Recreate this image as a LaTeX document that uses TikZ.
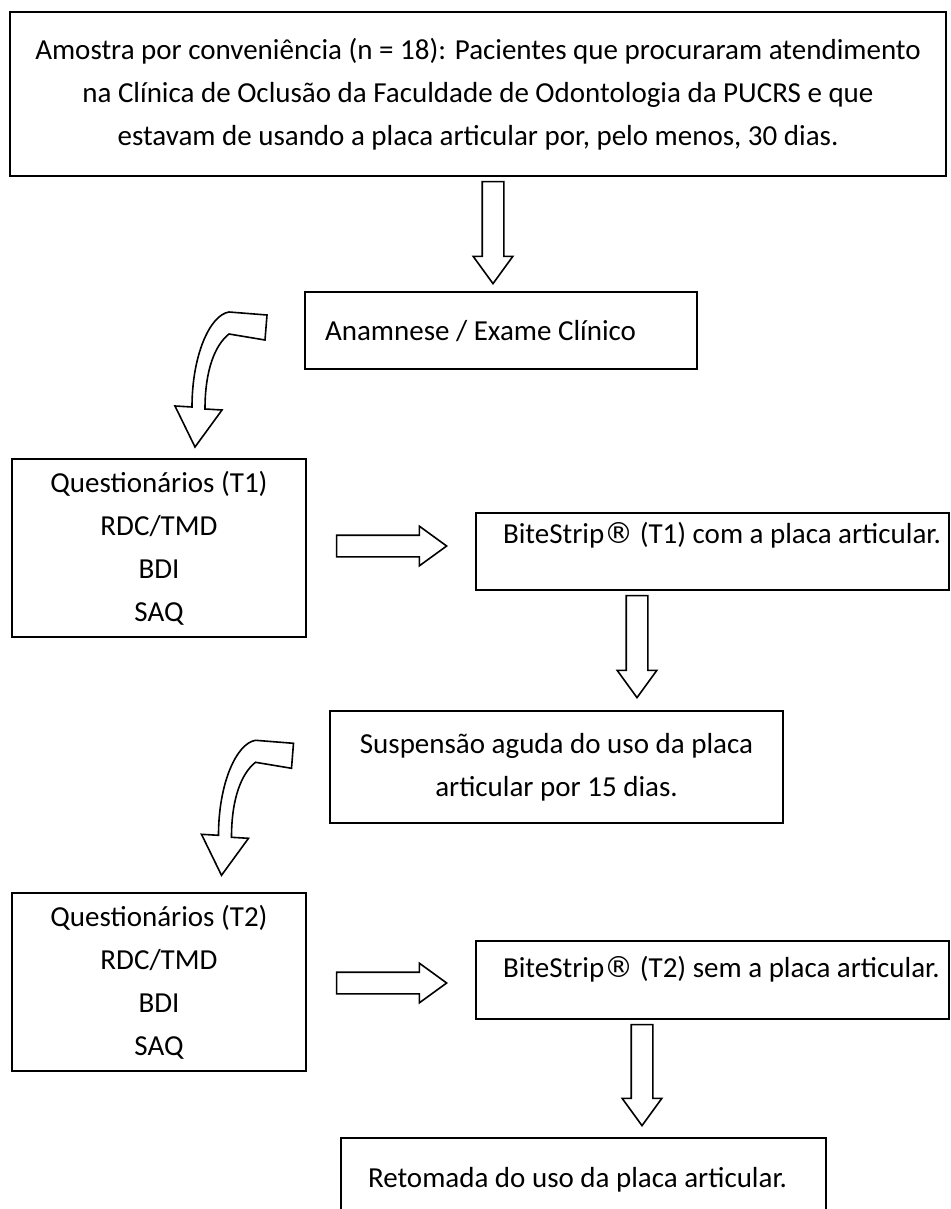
\documentclass[tikz,border=0pt]{standalone}
\usepackage{fontspec}
\setmainfont{Carlito}
\newfontfamily\regfont{DejaVu Sans}
\usetikzlibrary{shapes.arrows}

\begin{document}
\begin{tikzpicture}[x=0.5pt, y=-0.5pt]

\tikzset{box/.style = {draw, line width=1pt, align=center, inner sep=0pt, font=\fontsize{14.5}{21.5}\selectfont}}
\tikzset{onebox/.style = {box, anchor=north west, align=flush left, inner xsep=4pt, execute at begin node={\hspace*{#1}}}}
\tikzset{blockarrow/.style = {draw, line width=0.8pt, single arrow, single arrow head extend=4.5pt, single arrow tip angle=72, inner xsep=0pt, inner ysep=5pt, anchor=tip}}
\tikzset{bentarrow/.style = {draw, line width=0.8pt, fill=white}}

\useasboundingbox (0,0) rectangle (950,1209);
\clip (0,0) rectangle (950,1209);

%boxes
\node[box, minimum width=468pt, minimum height=82pt] (amostra) at (478,94) {Amostra por conveniência (n = 18): Pacientes que procuraram atendimento\\na Clínica de Oclusão da Faculdade de Odontologia da PUCRS e que\\estavam de usando a placa articular por, pelo menos, 30 dias.};
\node[onebox=6pt, text width=188pt, text height=24pt, text depth=14.5pt] (anamnese) at (304,291) {Anamnese / Exame Clínico};
\node[box, minimum width=147pt, minimum height=89pt] (questT1) at (159,548) {Questionários (T1)\\RDC/TMD\\BDI\\SAQ};
\node[onebox=9.5pt, text width=228.5pt, text height=15pt, text depth=23.5pt] (biteT1) at (475,512) {BiteStrip{\regfont ®} (T1) com a placa articular.};
\node[box, minimum width=226.5pt, minimum height=56pt] (suspensao) at (556.5,767) {Suspensão aguda do uso da placa\\articular por 15 dias.};
\node[box, minimum width=147pt, minimum height=89pt] (questT2) at (159,982) {Questionários (T2)\\RDC/TMD\\BDI\\SAQ};
\node[onebox=9.5pt, text width=228.5pt, text height=18pt, text depth=21pt] (biteT2) at (475,940) {BiteStrip{\regfont ®} (T2) sem a placa articular.};
\node[onebox=9.5pt, text width=234.5pt, text height=24.5pt, text depth=25.5pt] (retomada) at (340,1137) {Retomada do uso da placa articular.};

%arrows (placed by their tips)
\node[blockarrow, rotate=-90, minimum height=51pt] (down1) at (493,285) {};
\node[blockarrow, minimum height=55pt] (right1) at (448,546) {};
\node[blockarrow, rotate=-90, minimum height=51pt] (down2) at (637,699) {};
\node[blockarrow, minimum height=55pt] (right2) at (448,983) {};
\node[blockarrow, rotate=-90, minimum height=50.5pt] (down3) at (642,1127) {};

%bent arrows
\foreach \dx/\dy in {0/0, 26.5/428.3} {
  \begin{scope}[shift={(\dx,\dy)}]
    \path[bentarrow] (229,312) -- (267,315) -- (265,340) -- (229,334)
      .. controls (215,345) and (205,370) .. (205,409) -- (222,410) -- (195,447)
      -- (175,406) -- (192,407) .. controls (192,355) and (210,315) .. (229,312) -- cycle;
  \end{scope}
}

\end{tikzpicture}
\end{document}
